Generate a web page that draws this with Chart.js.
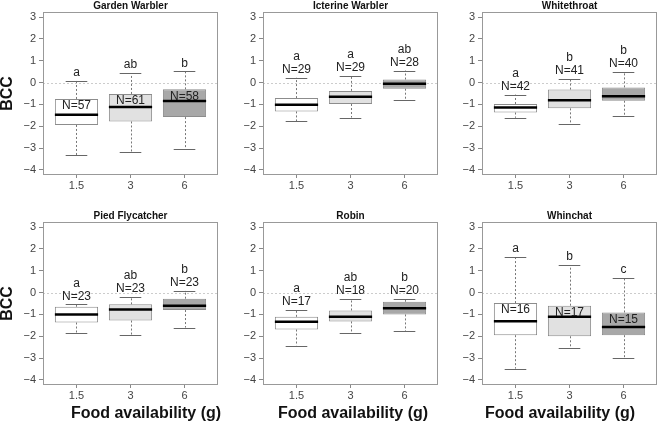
<!DOCTYPE html>
<html>
<head>
<meta charset="utf-8">
<script src="https://cdn.jsdelivr.net/npm/chart.js@4.4.0/dist/chart.umd.min.js"></script>
<style>
  body { margin: 0; background: #fff; width: 658px; height: 424px; overflow: hidden; position: relative; }
  canvas { position: absolute; }
</style>
</head>
<body>
<script>
// data (BCC by food availability)
const species = ['Garden Warbler', 'Icterine Warbler', 'Whitethroat', 'Pied Flycatcher', 'Robin', 'Whinchat'];
const foodLevels = ['1.5', '3', '6'];

const upperWhisker = [
  [0.09, 0.43, 0.51],
  [0.22, 0.32, 0.55],
  [-0.55, 0.18, 0.48],
  [-0.54, -0.20, 0.09],
  [-0.80, -0.28, -0.29],
  [1.65, 1.26, 0.66]
];
const upperQuartile = [
  [-0.75, -0.52, -0.31],
  [-0.71, -0.38, 0.14],
  [-0.98, -0.32, -0.22],
  [-0.65, -0.54, -0.28],
  [-1.11, -0.82, -0.42],
  [-0.48, -0.60, -0.91]
];
const medians = [
  [-1.47, -1.12, -0.84],
  [-1.01, -0.65, -0.05],
  [-1.14, -0.81, -0.63],
  [-1.00, -0.77, -0.60],
  [-1.34, -1.11, -0.72],
  [-1.31, -1.11, -1.58]
];
const lowerQuartile = [
  [-1.94, -1.78, -1.58],
  [-1.32, -0.98, -0.28],
  [-1.37, -1.18, -0.83],
  [-1.37, -1.28, -0.80],
  [-1.69, -1.32, -1.00],
  [-1.95, -2.00, -1.95]
];
const lowerWhisker = [
  [-3.32, -3.18, -3.03],
  [-1.78, -1.60, -0.81],
  [-1.61, -1.89, -1.55],
  [-1.87, -1.95, -1.60],
  [-2.43, -1.86, -1.77],
  [-3.48, -2.54, -3.00]
];
const sampleSizes = [[57, 61, 58], [29, 29, 28], [42, 41, 40], [23, 23, 23], [17, 18, 20], [16, 17, 15]];
const groupLetters = [['a', 'ab', 'b'], ['a', 'a', 'ab'], ['a', 'b', 'b'], ['a', 'ab', 'b'], ['a', 'ab', 'b'], ['a', 'b', 'c']];
const nInsideBox = [true, false, false, false, false, true];

const FONT = "'Liberation Sans', Arial, sans-serif";
const boxFill = ['#ffffff', '#e1e1e1', '#a8a8a8'];

// panel placement
const colX = [0, 220, 439];
const rowY = [0, 210];
const rowH = [200, 214];
const xAxisH = [25, 39];
const xTitleX = [146, 353, 560];
const extraRight = 20; // room for the wide x title

const boxExtras = {
  id: 'boxExtras',
  beforeDatasetsDraw(chart, args, opts) {
    const k = opts.panel;
    const {ctx, chartArea: a, scales: {x, y}} = chart;
    ctx.save();
    // dotted zero line
    const y0 = Math.round(y.getPixelForValue(0)) + 0.5;
    ctx.strokeStyle = '#cccccc';
    ctx.lineWidth = 1;
    ctx.setLineDash([2, 2]);
    ctx.beginPath();
    ctx.moveTo(a.left, y0);
    ctx.lineTo(a.right, y0);
    ctx.stroke();
    // whiskers
    ctx.strokeStyle = '#777777';
    ctx.setLineDash([2, 2]);
    for (let i = 0; i < 3; i++) {
      const px = Math.round(x.getPixelForValue(i + 1)) + 0.5;
      ctx.beginPath();
      ctx.moveTo(px, y.getPixelForValue(upperQuartile[k][i]));
      ctx.lineTo(px, y.getPixelForValue(upperWhisker[k][i]));
      ctx.moveTo(px, y.getPixelForValue(lowerQuartile[k][i]));
      ctx.lineTo(px, y.getPixelForValue(lowerWhisker[k][i]));
      ctx.stroke();
    }
    ctx.restore();
  },
  afterDatasetsDraw(chart, args, opts) {
    const k = opts.panel;
    const {ctx, chartArea: a, scales: {x, y}} = chart;
    const meta = chart.getDatasetMeta(0);
    ctx.save();
    for (let i = 0; i < 3; i++) {
      const bar = meta.data[i];
      const px = x.getPixelForValue(i + 1);
      const half = bar.width / 2;
      // caps
      ctx.strokeStyle = '#666666';
      ctx.lineWidth = 1;
      ctx.setLineDash([]);
      ctx.beginPath();
      const yt = Math.round(y.getPixelForValue(upperWhisker[k][i])) + 0.5;
      const yb = Math.round(y.getPixelForValue(lowerWhisker[k][i])) + 0.5;
      ctx.moveTo(px - half / 2, yt); ctx.lineTo(px + half / 2, yt);
      ctx.moveTo(px - half / 2, yb); ctx.lineTo(px + half / 2, yb);
      ctx.stroke();
      // median
      ctx.strokeStyle = '#000000';
      ctx.lineWidth = 2.5;
      const ym = y.getPixelForValue(medians[k][i]);
      ctx.beginPath();
      ctx.moveTo(px - half, ym); ctx.lineTo(px + half, ym);
      ctx.stroke();
      // labels
      ctx.fillStyle = '#222222';
      ctx.font = '12px ' + FONT;
      ctx.textAlign = 'center';
      ctx.textBaseline = 'middle';
      const topPx = y.getPixelForValue(upperWhisker[k][i]);
      if (nInsideBox[k]) {
        ctx.fillText('N=' + sampleSizes[k][i], px, y.getPixelForValue(upperQuartile[k][i]) + 7);
        ctx.fillText(groupLetters[k][i], px, topPx - 8);
      } else {
        ctx.fillText('N=' + sampleSizes[k][i], px, topPx - 8);
        ctx.fillText(groupLetters[k][i], px, topPx - 21);
      }
    }
    // frame
    ctx.strokeStyle = '#999999';
    ctx.lineWidth = 1;
    ctx.strokeRect(Math.round(a.left) + 0.5, Math.round(a.top) + 0.5,
      Math.round(a.right - a.left) - 1, Math.round(a.bottom - a.top) - 1);
    // x axis title (bottom row only)
    if (opts.row === 1) {
      ctx.fillStyle = '#111111';
      ctx.font = 'bold 16px ' + FONT;
      ctx.textAlign = 'center';
      ctx.textBaseline = 'middle';
      ctx.fillText('Food availability (g)', xTitleX[opts.col] - colX[opts.col], 204);
    }
    ctx.restore();
  }
};

for (let k = 0; k < 6; k++) {
  const row = Math.floor(k / 3), col = k % 3;
  const cv = document.createElement('canvas');
  cv.width = 219 + extraRight;
  cv.height = rowH[row];
  cv.style.left = colX[col] + 'px';
  cv.style.top = rowY[row] + 'px';
  document.body.appendChild(cv);

  new Chart(cv.getContext('2d'), {
    type: 'bar',
    data: {
      datasets: [{
        label: species[k],
        data: foodLevels.map((f, i) => ({x: i + 1, y: [lowerQuartile[k][i], upperQuartile[k][i]]})),
        backgroundColor: boxFill,
        borderColor: '#8c8c8c',
        borderWidth: 1,
        borderSkipped: false,
        categoryPercentage: 0.8,
        barPercentage: 1
      }]
    },
    options: {
      responsive: false,
      animation: false,
      devicePixelRatio: 1,
      layout: {padding: {left: 0, right: 1 + extraRight, top: 0, bottom: 0}},
      plugins: {
        legend: {display: false},
        tooltip: {enabled: false},
        title: {
          display: true, text: species[k], fullSize: false, padding: 0, color: '#111',
          font: {family: FONT, size: 10, weight: 'bold', lineHeight: 1.2}
        },
        boxExtras: {panel: k, row: row, col: col}
      },
      scales: {
        x: {
          type: 'linear', min: 0.38, max: 3.62, offset: false,
          grid: {display: true, drawOnChartArea: false, drawTicks: true, tickLength: 3, color: '#888', offset: false},
          border: {display: false},
          ticks: {
            stepSize: 1, includeBounds: false, autoSkip: false, maxRotation: 0, padding: 1,
            color: '#444', font: {family: FONT, size: 11},
            callback: v => foodLevels[v - 1] || ''
          },
          afterFit: s => { s.height = xAxisH[row]; }
        },
        y: {
          min: -4.23, max: 3.23,
          grid: {display: true, drawOnChartArea: false, drawTicks: true, tickLength: 4, color: '#888'},
          border: {display: false},
          ticks: {
            stepSize: 1, includeBounds: false, padding: 3,
            color: '#444', font: {family: FONT, size: 11},
            callback: v => v < 0 ? '\u2212' + (-v) : '' + v
          },
          title: {
            display: col === 0, text: 'BCC', padding: 0, color: '#111',
            font: {family: FONT, size: 16, weight: 'bold', lineHeight: 1}
          },
          afterFit: s => { s.width = 43; }
        }
      }
    },
    plugins: [boxExtras]
  });
}
</script>
</body>
</html>
